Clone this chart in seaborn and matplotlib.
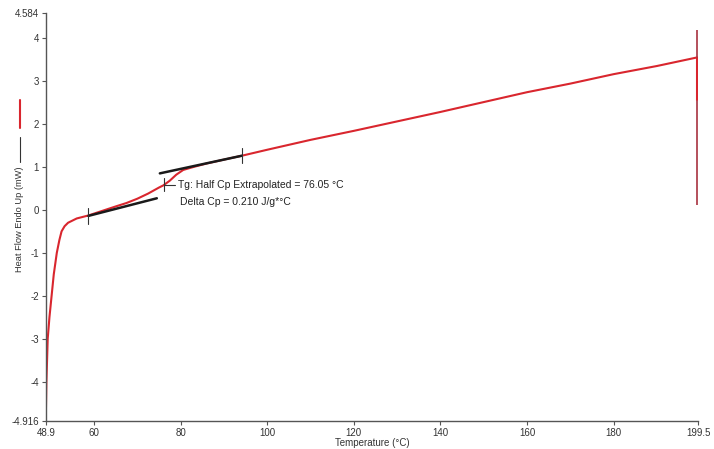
import seaborn as sns
import pandas as pd
import numpy as np
import matplotlib.pyplot as plt

# DSC curve
temp = [48.9, 49.0, 49.3, 49.7, 50.2, 50.7, 51.4, 52.0, 52.5, 53.2, 54.0, 56.0,
        58.7, 62.0, 65.0, 67.5, 70.0, 72.5, 75.0, 76.0, 77.5, 79.0, 80.6, 83.0,
        86.0, 90.0, 94.1, 100, 110, 120, 130, 140, 150, 160, 170, 180, 190, 199.3]
heat_flow = [-4.6, -4.0, -3.0, -2.5, -2.0, -1.5, -1.0, -0.7, -0.5, -0.38, -0.3, -0.2,
             -0.13, -0.02, 0.08, 0.16, 0.26, 0.38, 0.52, 0.57, 0.68, 0.82, 0.93, 1.0,
             1.08, 1.17, 1.26, 1.40, 1.63, 1.84, 2.06, 2.28, 2.51, 2.74, 2.94, 3.16, 3.35, 3.55]
# end of run: vertical drop
spike_temp = [199.3, 199.3]
spike_flow = [4.19, 0.12]
drop_temp = [199.3, 199.3]
drop_flow = [3.55, 2.56]

# tangent lines for the Tg construction
low_tan_t = [58.7, 74.5]
low_tan_v = [-0.14, 0.27]
high_tan_t = [75.2, 94.1]
high_tan_v = [0.85, 1.26]
tg = 76.05
tg_v = 0.58

y_ticks = [-4.916, -4, -3, -2, -1, 0, 1, 2, 3, 4, 4.584]
y_labels = ['-4.916', '-4', '-3', '-2', '-1', '0', '1', '2', '3', '4', '4.584']
x_ticks = [48.9, 60, 80, 100, 120, 140, 160, 180, 199.5]
x_labels = ['48.9', '60', '80', '100', '120', '140', '160', '180', '199.5']

sns.set_style('ticks')
plt.rcParams['font.family'] = ['Liberation Sans', 'DejaVu Sans']

fig = plt.figure(figsize=(7.14, 4.49), dpi=100)
ax = fig.add_axes([0.0644, 0.0624, 0.9132, 0.9086])

red = '#d9262e'
curve = pd.DataFrame({'T': temp, 'HF': heat_flow})
sns.lineplot(data=curve, x='T', y='HF', sort=False, estimator=None, color=red, lw=1.5, ax=ax)
ax.plot(spike_temp, spike_flow, color='#a8323f', lw=1.2, solid_capstyle='butt', zorder=3)
ax.plot(drop_temp, drop_flow, color=red, lw=2.2, solid_capstyle='butt', zorder=4)

# tangents
sns.lineplot(x=low_tan_t, y=low_tan_v, estimator=None, color='#1a1a1a', lw=1.8, ax=ax)
sns.lineplot(x=high_tan_t, y=high_tan_v, estimator=None, color='#1a1a1a', lw=1.8, ax=ax)
# small vertical markers
for t, v in [(low_tan_t[0], low_tan_v[0]), (high_tan_t[1], high_tan_v[1])]:
    ax.plot([t, t], [v - 0.18, v + 0.18], color='#333333', lw=0.8)
ax.plot([tg, tg], [tg_v - 0.15, tg_v + 0.16], color='#333333', lw=0.8)
ax.plot([tg, tg + 2.7], [tg_v, tg_v], color='#333333', lw=0.8)

ax.text(tg + 3.4, tg_v, 'Tg: Half Cp Extrapolated = 76.05 °C', fontsize=7.5,
        va='center', color='#222222')
ax.text(tg + 3.9, tg_v - 0.4, 'Delta Cp = 0.210 J/g*°C', fontsize=7.5,
        va='center', color='#222222')

ax.set_xlim(48.9, 199.5)
ax.set_ylim(-4.916, 4.584)
ax.set_xticks(x_ticks)
ax.set_xticklabels(x_labels)
ax.set_yticks(y_ticks)
ax.set_yticklabels(y_labels)
ax.tick_params(labelsize=7, length=3, width=0.8, color='#555555', labelcolor='#333333', pad=2)
for s in ['top', 'right']:
    ax.spines[s].set_visible(False)
for s in ['left', 'bottom']:
    ax.spines[s].set_color('#555555')
    ax.spines[s].set_linewidth(1.0)

ax.set_xlabel('Temperature (°C)', fontsize=7, color='#333333', labelpad=0)
ax.set_ylabel('Heat Flow Endo Up (mW)', fontsize=6.7, color='#333333', labelpad=2)
ax.yaxis.set_label_coords(-0.034, 0.495)

# legend-like swatches next to the y label
fig.add_artist(plt.Line2D([0.028, 0.028], [1 - 162 / 449, 1 - 137 / 449],
                          color='#333333', lw=0.8))
fig.add_artist(plt.Line2D([0.028, 0.028], [1 - 128 / 449, 1 - 100 / 449],
                          color=red, lw=1.5))

fig.savefig('out.png', dpi=100)
